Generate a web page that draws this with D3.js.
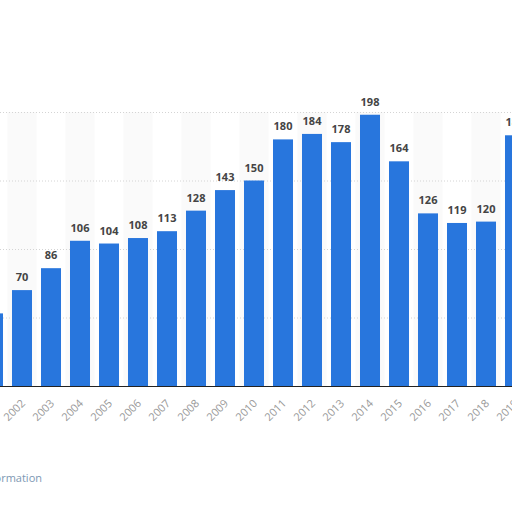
<!DOCTYPE html>
<html>
<head>
<meta charset="utf-8">
<script src="https://cdn.jsdelivr.net/npm/d3@7"></script>
<style>
  body { margin: 0; background: #fff; }
  svg { display: block; }
</style>
</head>
<body>
<div id="chart-area"></div>
<script>
// years and values
var years = ["2001", "2002", "2003", "2004", "2005", "2006", "2007", "2008", "2009", "2010",
             "2011", "2012", "2013", "2014", "2015", "2016", "2017", "2018", "2019"];
var values = [53, 70, 86, 106, 104, 108, 113, 128, 143, 150,
              180, 184, 178, 198, 164, 126, 119, 120, 183];
var gridTicks = [50, 100, 150, 200];

var width = 512, height = 512;

var svg = d3.select("#chart-area").append("svg")
    .attr("width", width)
    .attr("height", height);

// plot is wider than the window, first and last year are cut off
var x = d3.scaleBand()
    .domain(years)
    .range([-21.5, 529.5])
    .paddingInner(0.31)
    .paddingOuter(0.155);

var y = d3.scaleLinear()
    .domain([0, 200])
    .range([386, 112]);

// light stripes behind every other year
svg.append("g").selectAll("rect")
    .data(years.filter(function(d) { return +d % 2 === 0; }))
    .enter().append("rect")
    .attr("x", function(d) { return x(d) - x.step() * x.paddingInner() / 2; })
    .attr("width", x.step())
    .attr("y", y(200))
    .attr("height", y(0) - y(200))
    .attr("fill", "#fafafa");

// grid
svg.append("g").selectAll("line")
    .data(gridTicks)
    .enter().append("line")
    .attr("x1", 0)
    .attr("x2", width)
    .attr("y1", function(d) { return y(d) + 0.5; })
    .attr("y2", function(d) { return y(d) + 0.5; })
    .attr("stroke", "#d4d4d4")
    .attr("stroke-dasharray", "1,2");

// bars
svg.append("g").selectAll("rect")
    .data(values)
    .enter().append("rect")
    .attr("x", function(d, i) { return x(years[i]); })
    .attr("width", x.bandwidth())
    .attr("y", function(d) { return y(d); })
    .attr("height", function(d) { return y(0) - y(d); })
    .attr("fill", "#2876dd");

// value labels
svg.append("g").selectAll("text")
    .data(values)
    .enter().append("text")
    .attr("x", function(d, i) { return x(years[i]) + x.bandwidth() / 2; })
    .attr("y", function(d) { return y(d) - 9; })
    .attr("text-anchor", "middle")
    .attr("font-family", "'Open Sans', sans-serif")
    .attr("font-size", "11px")
    .attr("font-weight", "bold")
    .attr("fill", "#444")
    .text(function(d) { return d; });

// x axis
var xAxis = d3.axisBottom(x).tickSize(0).tickPadding(0);
var xAxisGroup = svg.append("g")
    .attr("transform", "translate(0, 386)")
    .call(xAxis);
xAxisGroup.select(".domain")
    .attr("d", "M0,0.5H" + width)
    .attr("stroke", "#222");
xAxisGroup.selectAll("text")
    .attr("font-family", "'Open Sans', sans-serif")
    .attr("font-size", "11px")
    .attr("fill", "#999")
    .attr("text-anchor", "end")
    .attr("dy", null)
    .attr("y", 0)
    .attr("transform", "translate(4, 18) rotate(-45)");

// footer link
svg.append("text")
    .attr("x", 42)
    .attr("y", 482)
    .attr("text-anchor", "end")
    .attr("font-family", "'Open Sans', sans-serif")
    .attr("font-size", "11px")
    .attr("fill", "#7d98b3")
    .text("Additional Information");
</script>
</body>
</html>
